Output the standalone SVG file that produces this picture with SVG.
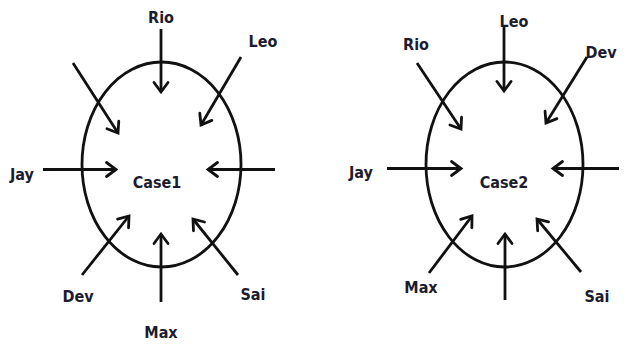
<svg xmlns="http://www.w3.org/2000/svg" width="629" height="345" viewBox="0 0 629 345">
<defs>
<marker id="ah" markerUnits="userSpaceOnUse" markerWidth="20" markerHeight="20" viewBox="-12 -10 16 20" refX="0" refY="0" orient="auto">
<path d="M-9.5,-7 L0,0 L-9.5,7" fill="none" stroke="#111" stroke-width="2.8" stroke-linecap="round" stroke-linejoin="miter"/>
</marker>
<style>
.ell{fill:none;stroke:#111;stroke-width:2.8}
.arr{stroke:#111;stroke-width:2.8;fill:none;marker-end:url(#ah)}
text{font-family:"DejaVu Sans Condensed","DejaVu Sans",sans-serif;font-weight:bold;font-size:16px;fill:#1c1c2e;text-anchor:middle}
</style>
</defs>
<rect width="629" height="345" fill="#fff"/>
<g id="case1">
<ellipse class="ell" cx="161.5" cy="164.5" rx="79.5" ry="102.5"/>
<text x="157" y="188">Case1</text>
</g>
<g id="case2">
<ellipse class="ell" cx="504.5" cy="164.5" rx="78.5" ry="102.5"/>
<text x="504" y="188">Case2</text>
</g>
<g id="labels1">
<text x="161" y="23">Rio</text>
<text x="263" y="47">Leo</text>
<text x="22" y="180">Jay</text>
<text x="78" y="302">Dev</text>
<text x="253" y="300">Sai</text>
<text x="161" y="338">Max</text>
</g>
<g id="labels2">
<text x="514" y="27">Leo</text>
<text x="416" y="50">Rio</text>
<text x="601" y="58">Dev</text>
<text x="361" y="178">Jay</text>
<text x="421" y="293">Max</text>
<text x="597" y="302">Sai</text>
</g>
<g id="connectors">
<line class="arr" x1="161" y1="29" x2="161" y2="92"/>
<line class="arr" x1="241" y1="57" x2="201" y2="125"/>
<line class="arr" x1="73" y1="63" x2="118" y2="133"/>
<line class="arr" x1="43" y1="169.5" x2="116" y2="169.5"/>
<line class="arr" x1="275" y1="169.5" x2="208" y2="169.5"/>
<line class="arr" x1="82" y1="275" x2="129" y2="216"/>
<line class="arr" x1="161" y1="302" x2="161" y2="234"/>
<line class="arr" x1="238" y1="275" x2="193" y2="219"/>
<line class="arr" x1="504" y1="27" x2="504" y2="91"/>
<line class="arr" x1="417" y1="63" x2="461" y2="129"/>
<line class="arr" x1="587" y1="57" x2="546" y2="123"/>
<line class="arr" x1="387" y1="168.5" x2="461" y2="168.5"/>
<line class="arr" x1="619" y1="168.5" x2="553" y2="168.5"/>
<line class="arr" x1="429" y1="273" x2="472" y2="216"/>
<line class="arr" x1="505" y1="300" x2="505" y2="234"/>
<line class="arr" x1="581" y1="272" x2="537" y2="219"/>
</g>
</svg>
